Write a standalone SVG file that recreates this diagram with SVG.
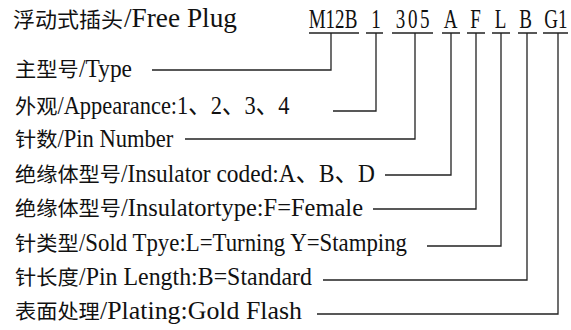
<svg xmlns="http://www.w3.org/2000/svg" width="571" height="330" viewBox="0 0 571 330">
<style>
.zh{font-family:"Noto Sans CJK SC","Noto Sans",sans-serif;font-size:20px;fill:#111}
.la{font-family:"Liberation Serif","Noto Sans CJK SC",serif;font-size:26px;fill:#111}
.code{font-family:"Liberation Serif",serif;font-size:28px;fill:#111;text-anchor:middle}
.ln{stroke:#222;stroke-width:1.3;fill:none}
</style>
<rect width="571" height="330" fill="#fff"/>
<g id="title">
<text class="zh" x="13" y="27" textLength="110" lengthAdjust="spacingAndGlyphs" style="font-size:21px">浮动式插头</text>
<text class="la" x="124" y="27" textLength="113" lengthAdjust="spacingAndGlyphs" style="font-size:27px">/Free Plug</text>
</g>
<g id="code">
<text class="code" transform="translate(333,28) scale(0.68,1)">M12B</text>
<text class="code" transform="translate(376,28) scale(0.68,1)">1</text>
<text class="code" transform="translate(414,28) scale(0.68,1)" letter-spacing="4">305</text>
<text class="code" transform="translate(450.5,28) scale(0.68,1)">A</text>
<text class="code" transform="translate(475.5,28) scale(0.68,1)">F</text>
<text class="code" transform="translate(500.5,28) scale(0.68,1)">L</text>
<text class="code" transform="translate(525.5,28) scale(0.68,1)">B</text>
<text class="code" transform="translate(556,28) scale(0.68,1)">G1</text>
</g>
<g id="row-type">
<text class="zh" x="15" y="77" textLength="63.6" lengthAdjust="spacingAndGlyphs">主型号</text>
<text class="la" x="79" y="77" textLength="53" lengthAdjust="spacingAndGlyphs">/Type</text>
</g>
<g id="row-appearance">
<text class="zh" x="15" y="114" textLength="42.4" lengthAdjust="spacingAndGlyphs">外观</text>
<text class="la" x="57.4" y="114" textLength="232" lengthAdjust="spacingAndGlyphs">/Appearance:1、2、3、4</text>
</g>
<g id="row-pin">
<text class="zh" x="15" y="147" textLength="42.4" lengthAdjust="spacingAndGlyphs">针数</text>
<text class="la" x="57.4" y="147" textLength="116" lengthAdjust="spacingAndGlyphs">/Pin Number</text>
</g>
<g id="row-coded">
<text class="zh" x="15" y="182" textLength="106" lengthAdjust="spacingAndGlyphs">绝缘体型号</text>
<text class="la" x="121" y="182" textLength="254" lengthAdjust="spacingAndGlyphs">/Insulator coded:A、B、D</text>
</g>
<g id="row-insulatortype">
<text class="zh" x="15" y="216" textLength="106" lengthAdjust="spacingAndGlyphs">绝缘体型号</text>
<text class="la" x="121" y="216" textLength="242" lengthAdjust="spacingAndGlyphs">/Insulatortype:F=Female</text>
</g>
<g id="row-sold">
<text class="zh" x="15" y="251" textLength="63.6" lengthAdjust="spacingAndGlyphs">针类型</text>
<text class="la" x="79" y="251" textLength="328" lengthAdjust="spacingAndGlyphs">/Sold Tpye:L=Turning Y=Stamping</text>
</g>
<g id="row-length">
<text class="zh" x="15" y="285" textLength="63.6" lengthAdjust="spacingAndGlyphs">针长度</text>
<text class="la" x="79" y="285" textLength="233" lengthAdjust="spacingAndGlyphs">/Pin Length:B=Standard</text>
</g>
<g id="row-plating">
<text class="zh" x="15" y="319" textLength="84.8" lengthAdjust="spacingAndGlyphs">表面处理</text>
<text class="la" x="100" y="319" textLength="202" lengthAdjust="spacingAndGlyphs">/Plating:Gold Flash</text>
</g>
<g id="connectors" class="ln">
<path d="M309 33H359M366 33H383M392 33H433M442 33H460M467 33H485M492 33H510M518 33H537M543 33H568"/>
<path d="M331 33V70H152"/>
<path d="M376 33V111H333"/>
<path d="M415 33V139H185"/>
<path d="M451 33V175H385"/>
<path d="M476 33V209H373"/>
<path d="M501 33V246H427"/>
<path d="M527 33V280H323"/>
<path d="M558 33V314H317"/>
</g>
</svg>
